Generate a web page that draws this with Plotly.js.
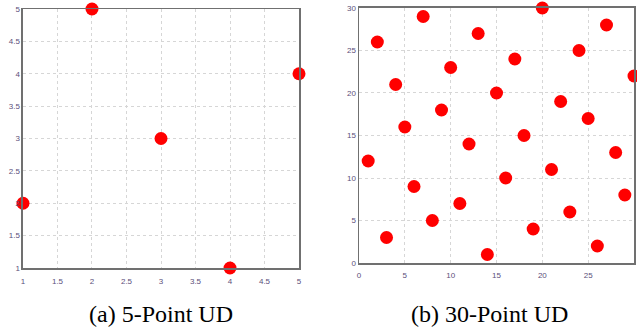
<!DOCTYPE html>
<html><head><meta charset="utf-8">
<script src="https://cdn.plot.ly/plotly-3.0.1.min.js"></script>
<style>html,body{margin:0;padding:0;background:#fff}#c{width:637px;height:329px}</style>
</head><body><div id="c"></div>
<script>
const x5 = [1, 2, 3, 4, 5];
const y5 = [2, 5, 3, 1, 4];
const x30 = [1,2,3,4,5,6,7,8,9,10,11,12,13,14,15,16,17,18,19,20,21,22,23,24,25,26,27,28,29,30];
const y30 = [12,26,3,21,16,9,29,5,18,23,7,14,27,1,20,10,24,15,4,30,11,19,6,25,17,2,28,13,8,22];
const captions = ['(a) 5-Point UD', '(b) 30-Point UD'];

const mk = {color: '#ff0000', size: 13};
const traces = [
  {x: x5, y: y5, type: 'scatter', mode: 'markers', marker: mk, xaxis: 'x', yaxis: 'y', cliponaxis: false},
  {x: x30, y: y30, type: 'scatter', mode: 'markers', marker: mk, xaxis: 'x2', yaxis: 'y2', cliponaxis: false}
];
const tickFont = {family: 'Liberation Sans, Arial', size: 8, color: '#5b4f7a'};
const ax = (extra) => Object.assign({
  showgrid: true, gridcolor: '#d6d6d6', griddash: 'dot', gridwidth: 1,
  zeroline: false, showline: true, linecolor: '#707070', linewidth: 1.5, mirror: true,
  ticks: '', tickfont: tickFont, fixedrange: true
}, extra);

const layout = {
  width: 637, height: 329, margin: {l: 0, r: 0, t: 0, b: 0},
  paper_bgcolor: '#ffffff', plot_bgcolor: '#ffffff', showlegend: false,
  xaxis: ax({domain: [0.0361, 0.4694], range: [1, 5], dtick: 0.5, anchor: 'y', ticklabelstandoff: 5}),
  yaxis: ax({domain: [0.1854, 0.9726], range: [1, 5], dtick: 0.5, anchor: 'x'}),
  xaxis2: ax({domain: [0.5636, 0.9953], range: [0, 30], dtick: 5, anchor: 'y2', ticklabelstandoff: 4}),
  yaxis2: ax({domain: [0.2006, 0.9757], range: [0, 30], dtick: 5, anchor: 'x2'}),
  annotations: [
    {text: captions[0], xref: 'paper', yref: 'paper', x: 0.252, y: 0.046, xanchor: 'center', yanchor: 'middle',
     showarrow: false, font: {family: 'Liberation Serif, Times New Roman', size: 24, color: '#000'}},
    {text: captions[1], xref: 'paper', yref: 'paper', x: 0.768, y: 0.046, xanchor: 'center', yanchor: 'middle',
     showarrow: false, font: {family: 'Liberation Serif, Times New Roman', size: 24, color: '#000'}}
  ]
};
Plotly.newPlot('c', traces, layout, {displayModeBar: false, staticPlot: true});
</script></body></html>
